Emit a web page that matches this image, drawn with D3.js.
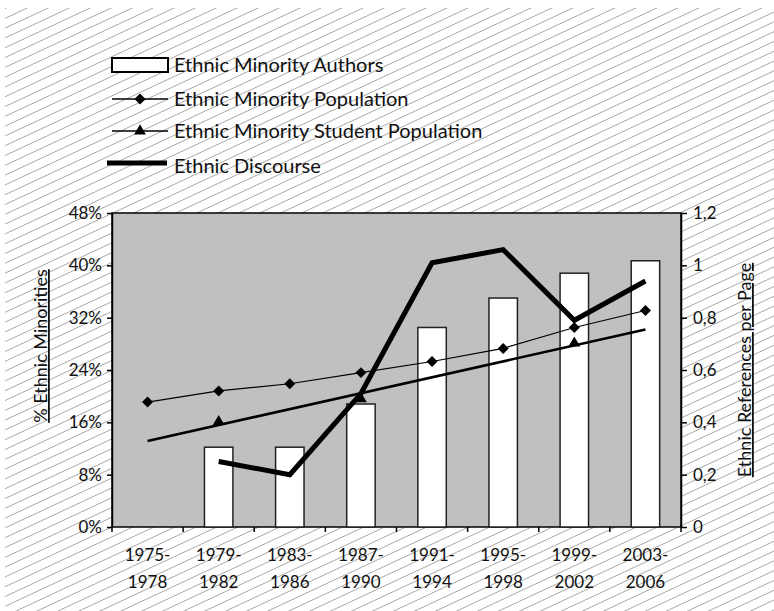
<!DOCTYPE html>
<html>
<head>
<meta charset="utf-8">
<script src="https://cdn.jsdelivr.net/npm/d3@7"></script>
<style>
  html, body { margin: 0; padding: 0; background: #fff; }
  svg { display: block; }
  text { font-family: "Lato", "Open Sans", sans-serif; fill: #111; }
</style>
</head>
<body>
<svg id="chart" width="774" height="611"></svg>
<script>
// Periods on the category axis
const periods = ["1975-1978", "1979-1982", "1983-1986", "1987-1990", "1991-1994", "1995-1998", "1999-2002", "2003-2006"];
// Share of ethnic minority authors (%)
const authors = [null, 12.2, 12.2, 18.8, 30.5, 35.0, 38.8, 40.7];
// Ethnic minority share of the population (%)
const population = [19.1, 20.8, 21.9, 23.6, 25.3, 27.3, 30.5, 33.1];
// Ethnic minority share of the student population (%)
const students = [null, 16.1, null, 19.6, null, null, 28.1, null];
// Ethnic references per page
const discourse = [null, 0.25, 0.2, 0.51, 1.01, 1.06, 0.79, 0.94];

const leftTicks = [0, 8, 16, 24, 32, 40, 48];
const leftTickLabels = ["0%", "8%", "16%", "24%", "32%", "40%", "48%"];
const rightTicks = [0, 0.2, 0.4, 0.6, 0.8, 1, 1.2];
const rightTickLabels = ["0", "0,2", "0,4", "0,6", "0,8", "1", "1,2"];

const legendItems = ["Ethnic Minority Authors", "Ethnic Minority Population", "Ethnic Minority Student Population", "Ethnic Discourse"];

const W = 774, H = 611;
const plot = { left: 112, right: 681, top: 213, bottom: 527 };

const svg = d3.select("#chart");

// Hatched backdrop
const defs = svg.append("defs");
defs.append("clipPath").attr("id", "hatchClip")
  .append("rect").attr("x", 5).attr("y", 8).attr("width", W - 5).attr("height", H - 8);
const slope = 0.467, gap = 9.8;
const hatch = svg.append("g").attr("clip-path", "url(#hatchClip)");
for (let c = 1.1; c < H + slope * W + gap; c += gap) {
  hatch.append("line")
    .attr("x1", 0).attr("y1", c)
    .attr("x2", W).attr("y2", c - slope * W)
    .attr("stroke", "#a9a9a9").attr("stroke-width", 1);
}

// Scales
const x = d3.scaleBand().domain(periods)
  .range([plot.left, plot.right]).paddingInner(0.6).paddingOuter(0.3);
const cx = d => x(d) + x.bandwidth() / 2;
const yL = d3.scaleLinear().domain([0, 48]).range([plot.bottom, plot.top]);
const yR = d3.scaleLinear().domain([0, 1.2]).range([plot.bottom, plot.top]);

// Plot area
svg.append("rect")
  .attr("x", plot.left).attr("y", plot.top)
  .attr("width", plot.right - plot.left).attr("height", plot.bottom - plot.top)
  .attr("fill", "#c0c0c0").attr("stroke", "#000").attr("stroke-width", 1.5);

// Bars
svg.append("g").selectAll("rect")
  .data(periods.map((p, i) => ({ p, v: authors[i] })).filter(d => d.v != null))
  .join("rect")
  .attr("x", d => x(d.p)).attr("width", x.bandwidth())
  .attr("y", d => yL(d.v)).attr("height", d => yL(0) - yL(d.v))
  .attr("fill", "#fff").attr("stroke", "#222").attr("stroke-width", 1.5);

// Student population trend line (least squares over the observed points)
const sPts = students.map((v, i) => ({ i, v })).filter(d => d.v != null);
const mx = d3.mean(sPts, d => d.i), my = d3.mean(sPts, d => d.v);
const b = d3.sum(sPts, d => (d.i - mx) * (d.v - my)) / d3.sum(sPts, d => (d.i - mx) ** 2);
const a = my - b * mx;
const trend = [0, periods.length - 1].map(i => ({ p: periods[i], v: a + b * i }));
svg.append("path")
  .attr("d", d3.line().x(d => cx(d.p)).y(d => yL(d.v))(trend))
  .attr("fill", "none").attr("stroke", "#000").attr("stroke-width", 2.6);

// Population line with diamonds
const popData = periods.map((p, i) => ({ p, v: population[i] }));
svg.append("path")
  .attr("d", d3.line().x(d => cx(d.p)).y(d => yL(d.v))(popData))
  .attr("fill", "none").attr("stroke", "#000").attr("stroke-width", 1.2);

const squareDiamond = {
  draw(ctx, size) {
    const r = Math.sqrt(size / 2);
    ctx.moveTo(0, -r); ctx.lineTo(r, 0); ctx.lineTo(0, r); ctx.lineTo(-r, 0); ctx.closePath();
  }
};
svg.append("g").selectAll("path")
  .data(popData).join("path")
  .attr("transform", d => `translate(${cx(d.p)},${yL(d.v)})`)
  .attr("d", d3.symbol().type(squareDiamond).size(60))
  .attr("fill", "#000");

// Student population markers
svg.append("g").selectAll("path")
  .data(sPts).join("path")
  .attr("transform", d => `translate(${cx(periods[d.i])},${yL(d.v)})`)
  .attr("d", d3.symbol().type(d3.symbolTriangle).size(60))
  .attr("fill", "#000");

// Discourse line (right axis)
const discData = periods.map((p, i) => ({ p, v: discourse[i] })).filter(d => d.v != null);
svg.append("path")
  .attr("d", d3.line().x(d => cx(d.p)).y(d => yR(d.v))(discData))
  .attr("fill", "none").attr("stroke", "#000").attr("stroke-width", 5)
  .attr("stroke-linejoin", "miter");

// Left axis
const axL = svg.append("g").attr("transform", `translate(${plot.left},0)`)
  .call(d3.axisLeft(yL).tickValues(leftTicks)
    .tickFormat((d, i) => leftTickLabels[i]).tickSize(5).tickSizeOuter(0).tickPadding(5));
axL.select(".domain").attr("stroke", "#000").attr("stroke-width", 1.5);
axL.selectAll(".tick line").attr("stroke", "#000").attr("stroke-width", 1.5);
axL.selectAll(".tick text").attr("font-size", 17).attr("font-family", "Lato, sans-serif").attr("fill", "#111");

// Right axis
const axR = svg.append("g").attr("transform", `translate(${plot.right},0)`)
  .call(d3.axisRight(yR).tickValues(rightTicks)
    .tickFormat((d, i) => rightTickLabels[i]).tickSize(6).tickSizeOuter(0).tickPadding(6));
axR.select(".domain").attr("stroke", "#000").attr("stroke-width", 1.5);
axR.selectAll(".tick line").attr("stroke", "#000").attr("stroke-width", 1.5);
axR.selectAll(".tick text").attr("font-size", 17).attr("font-family", "Lato, sans-serif").attr("fill", "#111");

// Category axis: ticks on the period boundaries, two-line labels
const xAxis = svg.append("g");
const bounds = d3.range(periods.length + 1).map(i => x.range()[0] + i * x.step());
xAxis.selectAll("line").data(bounds).join("line")
  .attr("x1", d => d).attr("x2", d => d)
  .attr("y1", plot.bottom).attr("y2", plot.bottom + 5)
  .attr("stroke", "#000").attr("stroke-width", 1.5);
const xl = xAxis.selectAll("text").data(periods).join("text")
  .attr("text-anchor", "middle").attr("font-size", 17);
xl.append("tspan").attr("x", d => cx(d)).attr("y", 561).text(d => d.split("-")[0] + "-");
xl.append("tspan").attr("x", d => cx(d)).attr("y", 588).text(d => d.split("-")[1]);

// Axis titles
svg.append("text")
  .attr("transform", "translate(47,346) rotate(-90)")
  .attr("text-anchor", "middle").attr("font-size", 18)
  .attr("text-decoration", "underline")
  .text("% Ethnic Minorities");
svg.append("text")
  .attr("transform", "translate(751,370) rotate(-90)")
  .attr("text-anchor", "middle").attr("font-size", 18)
  .attr("text-decoration", "underline")
  .text("Ethnic References per Page");

// Legend
const lg = svg.append("g");
const rowY = [65, 99, 131, 163];
const keyX0 = 112, keyX1 = 168, keyMid = 140;
lg.append("rect").attr("x", keyX0).attr("y", rowY[0] - 7).attr("width", keyX1 - keyX0).attr("height", 14)
  .attr("fill", "#fff").attr("stroke", "#000").attr("stroke-width", 2);
lg.append("line").attr("x1", keyX0).attr("x2", keyX1).attr("y1", rowY[1]).attr("y2", rowY[1])
  .attr("stroke", "#000").attr("stroke-width", 1.5);
lg.append("path").attr("transform", `translate(${keyMid},${rowY[1]})`)
  .attr("d", d3.symbol().type(squareDiamond).size(60)).attr("fill", "#000");
lg.append("line").attr("x1", keyX0).attr("x2", keyX1).attr("y1", rowY[2]).attr("y2", rowY[2])
  .attr("stroke", "#000").attr("stroke-width", 1.5);
lg.append("path").attr("transform", `translate(${keyMid},${rowY[2]})`)
  .attr("d", d3.symbol().type(d3.symbolTriangle).size(60)).attr("fill", "#000");
lg.append("line").attr("x1", 107).attr("x2", 167).attr("y1", rowY[3]).attr("y2", rowY[3])
  .attr("stroke", "#000").attr("stroke-width", 5);
lg.selectAll("text.lab").data(legendItems).join("text").attr("class", "lab")
  .attr("x", 174).attr("y", (d, i) => [65, 99, 131, 166][i] + 7)
  .attr("font-size", 20)
  .text(d => d);
</script>
</body>
</html>
